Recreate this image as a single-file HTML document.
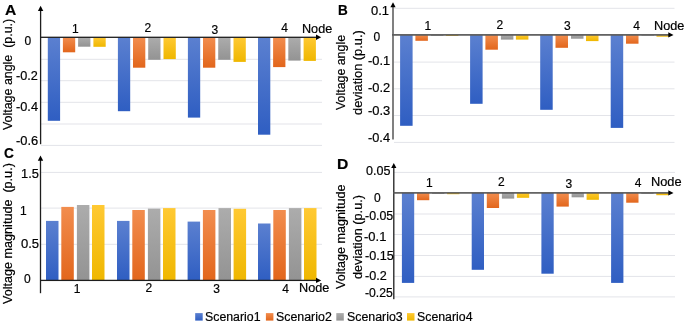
<!DOCTYPE html><html><head><meta charset="utf-8"><style>html,body{margin:0;padding:0;background:#fff;width:685px;height:323px;overflow:hidden}body{position:relative;font-family:"Liberation Sans",sans-serif}svg{position:absolute;left:0;top:0}.t{position:absolute;white-space:nowrap;color:#000;line-height:1;-webkit-text-stroke:0.2px #000}</style></head><body>
<svg width="685" height="323" viewBox="0 0 685 323"><defs><linearGradient id="gb" x1="0" y1="0" x2="0" y2="1"><stop offset="0" stop-color="#5b80d0"/><stop offset="1" stop-color="#2f5ec2"/></linearGradient><linearGradient id="go" x1="0" y1="0" x2="0" y2="1"><stop offset="0" stop-color="#f28d4e"/><stop offset="1" stop-color="#e2661c"/></linearGradient><linearGradient id="gg" x1="0" y1="0" x2="0" y2="1"><stop offset="0" stop-color="#acacac"/><stop offset="1" stop-color="#939393"/></linearGradient><linearGradient id="gy" x1="0" y1="0" x2="0" y2="1"><stop offset="0" stop-color="#ffc933"/><stop offset="1" stop-color="#efb700"/></linearGradient></defs><rect x="41.00" y="58.80" width="281.00" height="1" fill="#e3e4e9"/>
<rect x="41.00" y="80.20" width="281.00" height="1" fill="#e3e4e9"/>
<rect x="41.00" y="101.80" width="281.00" height="1" fill="#e3e4e9"/>
<rect x="41.00" y="123.50" width="281.00" height="1" fill="#e3e4e9"/>
<rect x="41.00" y="144.90" width="281.00" height="1" fill="#e3e4e9"/>
<rect x="47.80" y="37.30" width="12.30" height="83.50" fill="url(#gb)"/>
<rect x="62.90" y="37.30" width="12.30" height="15.00" fill="url(#go)"/>
<rect x="78.10" y="37.30" width="12.30" height="9.40" fill="url(#gg)"/>
<rect x="93.40" y="37.30" width="12.30" height="9.50" fill="url(#gy)"/>
<rect x="117.90" y="37.30" width="12.30" height="73.90" fill="url(#gb)"/>
<rect x="133.00" y="37.30" width="12.30" height="30.40" fill="url(#go)"/>
<rect x="148.20" y="37.30" width="12.30" height="22.50" fill="url(#gg)"/>
<rect x="163.50" y="37.30" width="12.30" height="21.80" fill="url(#gy)"/>
<rect x="187.90" y="37.30" width="12.30" height="80.30" fill="url(#gb)"/>
<rect x="203.00" y="37.30" width="12.30" height="30.40" fill="url(#go)"/>
<rect x="218.20" y="37.30" width="12.30" height="22.50" fill="url(#gg)"/>
<rect x="233.50" y="37.30" width="12.30" height="24.60" fill="url(#gy)"/>
<rect x="258.00" y="37.30" width="12.30" height="97.40" fill="url(#gb)"/>
<rect x="273.10" y="37.30" width="12.30" height="29.80" fill="url(#go)"/>
<rect x="288.30" y="37.30" width="12.30" height="23.30" fill="url(#gg)"/>
<rect x="303.60" y="37.30" width="12.30" height="23.60" fill="url(#gy)"/>
<rect x="394.00" y="7.80" width="280.50" height="1" fill="#e3e4e9"/>
<rect x="394.00" y="61.60" width="280.50" height="1" fill="#e3e4e9"/>
<rect x="394.00" y="88.30" width="280.50" height="1" fill="#e3e4e9"/>
<rect x="394.00" y="115.00" width="280.50" height="1" fill="#e3e4e9"/>
<rect x="394.00" y="141.90" width="280.50" height="1" fill="#e3e4e9"/>
<rect x="400.10" y="34.90" width="12.50" height="90.90" fill="url(#gb)"/>
<rect x="415.40" y="34.90" width="12.50" height="5.90" fill="url(#go)"/>
<rect x="430.90" y="34.90" width="12.50" height="1.00" fill="url(#gg)"/>
<rect x="445.90" y="34.90" width="12.50" height="1.10" fill="url(#gy)"/>
<rect x="470.10" y="34.90" width="12.50" height="68.90" fill="url(#gb)"/>
<rect x="485.40" y="34.90" width="12.50" height="14.80" fill="url(#go)"/>
<rect x="500.90" y="34.90" width="12.50" height="4.70" fill="url(#gg)"/>
<rect x="515.90" y="34.90" width="12.50" height="4.70" fill="url(#gy)"/>
<rect x="540.20" y="34.90" width="12.50" height="74.90" fill="url(#gb)"/>
<rect x="555.50" y="34.90" width="12.50" height="12.90" fill="url(#go)"/>
<rect x="571.00" y="34.90" width="12.50" height="3.80" fill="url(#gg)"/>
<rect x="586.00" y="34.90" width="12.50" height="6.20" fill="url(#gy)"/>
<rect x="610.70" y="34.90" width="12.50" height="93.00" fill="url(#gb)"/>
<rect x="626.00" y="34.90" width="12.50" height="8.80" fill="url(#go)"/>
<rect x="641.50" y="34.90" width="12.50" height="0.70" fill="url(#gg)"/>
<rect x="656.50" y="34.90" width="12.50" height="1.80" fill="url(#gy)"/>
<rect x="41.00" y="171.90" width="281.00" height="1" fill="#e3e4e9"/>
<rect x="41.00" y="207.60" width="281.00" height="1" fill="#e3e4e9"/>
<rect x="41.00" y="243.80" width="281.00" height="1" fill="#e3e4e9"/>
<rect x="46.00" y="220.90" width="12.50" height="59.50" fill="url(#gb)"/>
<rect x="61.30" y="206.90" width="12.50" height="73.50" fill="url(#go)"/>
<rect x="76.90" y="205.00" width="12.50" height="75.40" fill="url(#gg)"/>
<rect x="92.00" y="205.00" width="12.50" height="75.40" fill="url(#gy)"/>
<rect x="117.00" y="220.90" width="12.50" height="59.50" fill="url(#gb)"/>
<rect x="132.30" y="210.00" width="12.50" height="70.40" fill="url(#go)"/>
<rect x="147.90" y="208.60" width="12.50" height="71.80" fill="url(#gg)"/>
<rect x="163.00" y="208.10" width="12.50" height="72.30" fill="url(#gy)"/>
<rect x="187.60" y="221.60" width="12.50" height="58.80" fill="url(#gb)"/>
<rect x="202.90" y="210.00" width="12.50" height="70.40" fill="url(#go)"/>
<rect x="218.50" y="208.10" width="12.50" height="72.30" fill="url(#gg)"/>
<rect x="233.60" y="208.80" width="12.50" height="71.60" fill="url(#gy)"/>
<rect x="258.00" y="223.50" width="12.50" height="56.90" fill="url(#gb)"/>
<rect x="273.30" y="210.00" width="12.50" height="70.40" fill="url(#go)"/>
<rect x="288.90" y="208.10" width="12.50" height="72.30" fill="url(#gg)"/>
<rect x="304.00" y="208.10" width="12.50" height="72.30" fill="url(#gy)"/>
<rect x="394.00" y="171.90" width="281.00" height="1" fill="#e3e4e9"/>
<rect x="394.00" y="213.50" width="281.00" height="1" fill="#e3e4e9"/>
<rect x="394.00" y="234.00" width="281.00" height="1" fill="#e3e4e9"/>
<rect x="394.00" y="255.00" width="281.00" height="1" fill="#e3e4e9"/>
<rect x="394.00" y="275.90" width="281.00" height="1" fill="#e3e4e9"/>
<rect x="394.00" y="296.40" width="281.00" height="1" fill="#e3e4e9"/>
<rect x="401.90" y="192.90" width="12.30" height="90.00" fill="url(#gb)"/>
<rect x="417.00" y="192.90" width="12.30" height="7.30" fill="url(#go)"/>
<rect x="432.10" y="192.90" width="12.30" height="1.00" fill="url(#gg)"/>
<rect x="447.10" y="192.90" width="12.30" height="1.30" fill="url(#gy)"/>
<rect x="471.70" y="192.90" width="12.30" height="76.90" fill="url(#gb)"/>
<rect x="486.80" y="192.90" width="12.30" height="15.10" fill="url(#go)"/>
<rect x="501.90" y="192.90" width="12.30" height="5.70" fill="url(#gg)"/>
<rect x="516.90" y="192.90" width="12.30" height="4.90" fill="url(#gy)"/>
<rect x="541.40" y="192.90" width="12.30" height="80.80" fill="url(#gb)"/>
<rect x="556.50" y="192.90" width="12.30" height="13.70" fill="url(#go)"/>
<rect x="571.60" y="192.90" width="12.30" height="4.40" fill="url(#gg)"/>
<rect x="586.60" y="192.90" width="12.30" height="6.90" fill="url(#gy)"/>
<rect x="611.10" y="192.90" width="12.30" height="90.00" fill="url(#gb)"/>
<rect x="626.20" y="192.90" width="12.30" height="9.80" fill="url(#go)"/>
<rect x="641.30" y="192.90" width="12.30" height="0.90" fill="url(#gg)"/>
<rect x="656.30" y="192.90" width="12.30" height="2.30" fill="url(#gy)"/>
<rect x="39.95" y="9.00" width="1.3" height="135.20" fill="#1e1e1e"/>
<path d="M40.60,5.80L43.30,11.00L37.90,11.00Z" fill="#000"/>
<rect x="40.00" y="36.65" width="277.00" height="1.3" fill="#1e1e1e"/>
<path d="M321.20,37.30L316.00,34.60L316.00,40.00Z" fill="#000"/>
<rect x="392.05" y="5.00" width="1.9" height="134.50" fill="#7a7a7a"/>
<path d="M393.00,2.20L395.60,7.20L390.40,7.20Z" fill="#000"/>
<rect x="392.00" y="34.05" width="277.00" height="1.7" fill="#5c5c5c"/>
<path d="M673.50,34.90L668.30,32.20L668.30,37.60Z" fill="#000"/>
<rect x="39.85" y="159.00" width="1.3" height="134.20" fill="#1e1e1e"/>
<path d="M40.50,155.60L43.20,160.80L37.80,160.80Z" fill="#000"/>
<rect x="40.00" y="279.75" width="277.00" height="1.3" fill="#1e1e1e"/>
<path d="M321.20,280.40L316.00,277.70L316.00,283.10Z" fill="#000"/>
<rect x="393.15" y="166.00" width="1.3" height="133.20" fill="#1e1e1e"/>
<path d="M393.80,162.90L396.40,167.90L391.20,167.90Z" fill="#000"/>
<rect x="393.00" y="192.10" width="276.00" height="1.6" fill="#555555"/>
<path d="M673.50,192.90L668.30,190.20L668.30,195.60Z" fill="#000"/>
<rect x="195.20" y="313.1" width="7.5" height="7.5" fill="url(#gb)"/>
<rect x="265.90" y="313.1" width="7.5" height="7.5" fill="url(#go)"/>
<rect x="336.30" y="313.1" width="7.5" height="7.5" fill="url(#gg)"/>
<rect x="407.00" y="313.1" width="7.5" height="7.5" fill="url(#gy)"/></svg>
<div style="position:absolute;left:0;top:0;width:685px;height:323px;will-change:transform">
<div class="t" style="font-size:15px;font-weight:bold;left:5.20px;top:2.20px;transform:scaleX(1.0395);transform-origin:0 0;">A</div>
<div class="t" style="font-size:15px;font-weight:bold;left:337.90px;top:2.20px;transform:scaleX(0.9000);transform-origin:0 0;">B</div>
<div class="t" style="font-size:15px;font-weight:bold;left:4.37px;top:144.90px;transform:scaleX(0.9126);transform-origin:0 0;">C</div>
<div class="t" style="font-size:15px;font-weight:bold;left:336.76px;top:156.40px;transform:scaleX(1.0444);transform-origin:0 0;">D</div>
<div class="t" style="font-size:12px;left:24.41px;top:34.93px;">0</div>
<div class="t" style="font-size:12px;left:15.89px;top:70.42px;transform:scaleX(1.0554);transform-origin:0 0;">-0.2</div>
<div class="t" style="font-size:12px;left:15.89px;top:101.26px;transform:scaleX(1.0633);transform-origin:0 0;">-0.4</div>
<div class="t" style="font-size:12px;left:15.89px;top:135.03px;transform:scaleX(1.0755);transform-origin:0 0;">-0.6</div>
<div class="t" style="font-size:12px;left:371.35px;top:4.90px;transform:scaleX(1.0778);transform-origin:0 0;">0.1</div>
<div class="t" style="font-size:12px;left:373.51px;top:30.63px;">0</div>
<div class="t" style="font-size:12px;left:368.18px;top:55.25px;transform:scaleX(1.0709);transform-origin:0 0;">-0.1</div>
<div class="t" style="font-size:12px;left:368.18px;top:81.82px;transform:scaleX(1.0709);transform-origin:0 0;">-0.2</div>
<div class="t" style="font-size:12px;left:367.88px;top:105.23px;transform:scaleX(1.0764);transform-origin:0 0;">-0.3</div>
<div class="t" style="font-size:12px;left:368.19px;top:131.56px;transform:scaleX(1.0633);transform-origin:0 0;">-0.4</div>
<div class="t" style="font-size:12px;left:21.13px;top:167.85px;transform:scaleX(1.0683);transform-origin:0 0;">1.5</div>
<div class="t" style="font-size:12px;left:20.00px;top:205.30px;">1</div>
<div class="t" style="font-size:12px;left:20.85px;top:237.80px;transform:scaleX(1.0859);transform-origin:0 0;">0.5</div>
<div class="t" style="font-size:12px;left:23.96px;top:273.18px;">0</div>
<div class="t" style="font-size:12px;left:366.07px;top:164.95px;transform:scaleX(1.0440);transform-origin:0 0;">0.05</div>
<div class="t" style="font-size:12px;left:373.96px;top:191.58px;">0</div>
<div class="t" style="font-size:12px;left:365.10px;top:210.05px;transform:scaleX(1.0325);transform-origin:0 0;">-0.05</div>
<div class="t" style="font-size:12px;left:364.18px;top:231.05px;transform:scaleX(1.0812);transform-origin:0 0;">-0.1</div>
<div class="t" style="font-size:12px;left:365.09px;top:250.05px;transform:scaleX(1.0515);transform-origin:0 0;">-0.15</div>
<div class="t" style="font-size:12px;left:365.29px;top:270.17px;transform:scaleX(1.0503);transform-origin:0 0;">-0.2</div>
<div class="t" style="font-size:12px;left:365.31px;top:286.75px;transform:scaleX(1.0173);transform-origin:0 0;">-0.25</div>
<div class="t" style="font-size:12px;left:71.90px;top:22.90px;">1</div>
<div class="t" style="font-size:12px;left:144.44px;top:21.87px;">2</div>
<div class="t" style="font-size:12px;left:211.61px;top:23.82px;">3</div>
<div class="t" style="font-size:12px;left:281.14px;top:22.20px;">4</div>
<div class="t" style="font-size:12px;left:301.55px;top:23.06px;transform:scaleX(1.0519);transform-origin:0 0;">Node</div>
<div class="t" style="font-size:12px;left:424.38px;top:19.98px;">1</div>
<div class="t" style="font-size:12px;left:496.59px;top:18.89px;">2</div>
<div class="t" style="font-size:12px;left:563.96px;top:20.32px;">3</div>
<div class="t" style="font-size:12px;left:633.19px;top:20.00px;">4</div>
<div class="t" style="font-size:12px;left:653.54px;top:20.06px;transform:scaleX(1.0556);transform-origin:0 0;">Node</div>
<div class="t" style="font-size:12px;left:73.65px;top:282.90px;">1</div>
<div class="t" style="font-size:12px;left:145.59px;top:281.62px;">2</div>
<div class="t" style="font-size:12px;left:213.21px;top:283.32px;">3</div>
<div class="t" style="font-size:12px;left:282.34px;top:282.50px;">4</div>
<div class="t" style="font-size:12px;left:298.74px;top:281.66px;transform:scaleX(1.0556);transform-origin:0 0;">Node</div>
<div class="t" style="font-size:12px;left:425.90px;top:177.15px;">1</div>
<div class="t" style="font-size:12px;left:498.09px;top:176.32px;">2</div>
<div class="t" style="font-size:12px;left:565.56px;top:177.77px;">3</div>
<div class="t" style="font-size:12px;left:634.79px;top:176.80px;">4</div>
<div class="t" style="font-size:12px;left:650.93px;top:176.16px;transform:scaleX(1.0667);transform-origin:0 0;">Node</div>
<div class="t" style="font-size:12px;left:205.17px;top:310.82px;transform:scaleX(1.0279);transform-origin:0 0;">Scenario1</div>
<div class="t" style="font-size:12px;left:275.57px;top:310.82px;transform:scaleX(1.0320);transform-origin:0 0;">Scenario2</div>
<div class="t" style="font-size:12px;left:346.57px;top:310.82px;transform:scaleX(1.0318);transform-origin:0 0;">Scenario3</div>
<div class="t" style="font-size:12px;left:417.07px;top:310.80px;transform:scaleX(1.0273);transform-origin:0 0;">Scenario4</div>
<div class="t" style="font-size:12.5px;left:1.84px;top:130.17px;transform-origin:0 0;transform:rotate(-90deg) scaleX(0.9934)">Voltage angle  (p.u.)</div>
<div class="t" style="font-size:12.5px;left:335.39px;top:110.17px;transform-origin:0 0;transform:rotate(-90deg) scaleX(0.9903)">Voltage angle</div>
<div class="t" style="font-size:12.5px;left:352.47px;top:115.47px;transform-origin:0 0;transform:rotate(-90deg) scaleX(1.0250)">deviation (p.u.)</div>
<div class="t" style="font-size:12.5px;left:1.92px;top:303.98px;transform-origin:0 0;transform:rotate(-90deg) scaleX(1.0083)">Voltage magnitude  (p.u.)</div>
<div class="t" style="font-size:12.5px;left:335.39px;top:288.98px;transform-origin:0 0;transform:rotate(-90deg) scaleX(1.0083)">Voltage magnitude</div>
<div class="t" style="font-size:12.5px;left:352.17px;top:279.27px;transform-origin:0 0;transform:rotate(-90deg) scaleX(1.0152)">deviation (p.u.)</div>
</div>
</body></html>
